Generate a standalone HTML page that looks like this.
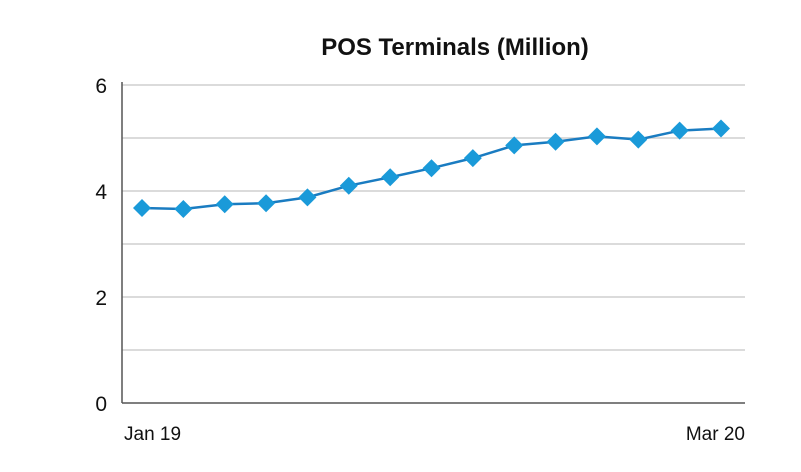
<!DOCTYPE html>
<html><head><meta charset="utf-8"><style>
html,body{margin:0;padding:0;background:#fff;}
svg{display:block;font-family:"Liberation Sans",sans-serif;}
</style></head><body>
<svg id="chart" width="801" height="472">
<text x="455" y="55" text-anchor="middle" font-size="24" font-weight="bold" fill="#111">POS Terminals (Million)</text>
<g id="grid"></g><g id="series"></g>
</svg>
<script>
const categories=["Jan 19","Feb 19","Mar 19","Apr 19","May 19","Jun 19","Jul 19","Aug 19","Sep 19","Oct 19","Nov 19","Dec 19","Jan 20","Feb 20","Mar 20"];
const values=[3.68,3.66,3.75,3.77,3.88,4.1,4.26,4.43,4.62,4.86,4.93,5.03,4.97,5.14,5.18];
const yTicks=[0,1,2,3,4,5,6];
const yLabels=["0","","2","","4","","6"];
const NS="http://www.w3.org/2000/svg";
const x0=122,x1=745,y0=403,y6=85,px0=142,px1=721;
const xs=i=>px0+(px1-px0)*i/(categories.length-1);
const ys=v=>y0-(y0-y6)*v/6;
function mk(t,a,p){const e=document.createElementNS(NS,t);for(const k in a)e.setAttribute(k,a[k]);p.appendChild(e);return e;}
const g=document.getElementById('grid'),s=document.getElementById('series');
yTicks.forEach((t,i)=>{
 if(t>0){const l=mk('line',{x1:x0,x2:x1,y1:ys(t),y2:ys(t),stroke:'#cfcfcf','stroke-width':1.5},g);
 
 }
 if(yLabels[i]){const tx=mk('text',{x:107,y:ys(t)+8,'text-anchor':'end','font-size':21,fill:'#111'},g);tx.textContent=yLabels[i];
 
 }
});
const ax=mk('line',{x1:x0,x2:x0,y1:y6-3,y2:y0,stroke:'#555','stroke-width':1.5},g);


const bx=mk('line',{x1:x0,x2:x1,y1:y0,y2:y0,stroke:'#555','stroke-width':1.5},g);


[[0,'start',124],[categories.length-1,'end',745]].forEach(([i,a,x])=>{
 const tx=mk('text',{x:x,y:440,'text-anchor':a,'font-size':19,fill:'#111'},g);tx.textContent=categories[i];
 
 
});
const pl=mk('polyline',{points:values.map((v,i)=>xs(i)+','+ys(v)).join(' '),fill:'none',stroke:'#1a7cc1','stroke-width':2.5},s);


values.forEach((v,i)=>{
 const x=xs(i),y=ys(v),r=9;
 const p=mk('polygon',{points:`${x},${y-r} ${x+r},${y} ${x},${y+r} ${x-r},${y}`,fill:'#1a9ad9'},s);
 
 
});
</script>
</body></html>
